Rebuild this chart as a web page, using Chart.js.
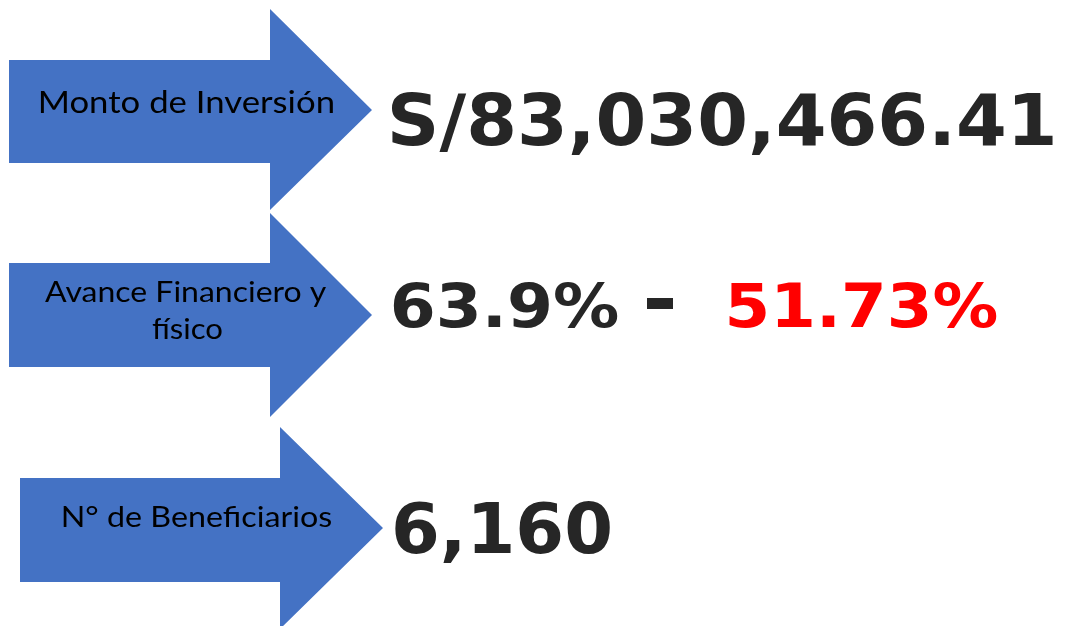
<!DOCTYPE html>
<html>
<head>
<meta charset="utf-8">
<script src="https://cdn.jsdelivr.net/npm/chart.js@4.4.1/dist/chart.umd.min.js"></script>
<style>
  html, body { margin: 0; padding: 0; background: #fff; }
  #wrap { width: 1065px; height: 626px; }
</style>
</head>
<body>
<div id="wrap"><canvas id="c" width="1065" height="626"></canvas></div>
<script>
// datos
const categorias = ['Monto de Inversión', 'Avance Financiero y\nfísico', 'N° de Beneficiarios'];
const valores = ['S/83,030,466.41', '63.9%', '6,160'];
const valoresFisico = ['', '51.73%', ''];

// geometria de las flechas y textos (unidades del eje, 0..1065 x 0..626)
const flechas = [
    { x0: 9,  x1: 270, punta: 372, top: 60,  bot: 163, cTop: 9,   cBot: 210, tipY: 110 },
    { x0: 9,  x1: 270, punta: 372, top: 263, bot: 367, cTop: 213, cBot: 417, tipY: 315 },
    { x0: 20, x1: 280, punta: 383, top: 478, bot: 582, cTop: 427, cBot: 629, tipY: 528 }
];
const etiquetas = [
    [{ a: 40, b: 333, base: 113, size: 30 }],
    [{ a: 45, b: 327, base: 302, size: 28 }, { a: 152, b: 222, base: 339, size: 28 }],
    [{ a: 63, b: 332, base: 527, size: 28 }]
];
const numeros = [
    { a: 392, b: 1053, base: 145, size: 71 },
    { a: 393, b: 618,  base: 327, size: 60 },
    { a: 395, b: 610,  base: 553, size: 69 }
];
const guion = { a: 647, b: 673, top: 298, bot: 309 };
const rojo = { a: 729, b: 997 };

const AZUL = '#4472C4';
const GRIS = '#262626';
const ROJO = '#FF0000';

// dibuja un texto ajustado horizontalmente a [x0, x1] (tinta)
const textoAjustado = (ctx, txt, x0, x1, base, font, color) => {
    ctx.save();
    ctx.font = font;
    ctx.fillStyle = color;
    ctx.textAlign = 'left';
    ctx.textBaseline = 'alphabetic';
    const m = ctx.measureText(txt);
    const w = m.actualBoundingBoxLeft + m.actualBoundingBoxRight;
    const s = (x1 - x0) / w;
    ctx.translate(x0 + m.actualBoundingBoxLeft * s, base);
    ctx.scale(s, 1);
    ctx.fillText(txt, 0, 0);
    ctx.restore();
};

const infografia = {
    id: 'infografia',
    afterDraw(chart) {
        const { ctx, scales: { x, y } } = chart;
        const px = v => x.getPixelForValue(v);
        const py = v => y.getPixelForValue(v);

        // flechas
        flechas.forEach(f => {
            ctx.save();
            ctx.fillStyle = AZUL;
            ctx.beginPath();
            ctx.moveTo(px(f.x0), py(f.top));
            ctx.lineTo(px(f.x1), py(f.top));
            ctx.lineTo(px(f.x1), py(f.cTop));
            ctx.lineTo(px(f.punta), py(f.tipY));
            ctx.lineTo(px(f.x1), py(f.cBot));
            ctx.lineTo(px(f.x1), py(f.bot));
            ctx.lineTo(px(f.x0), py(f.bot));
            ctx.closePath();
            ctx.fill();
            ctx.restore();
        });

        // etiquetas dentro de las flechas
        categorias.forEach((cat, i) => {
            cat.split('\n').forEach((linea, j) => {
                const e = etiquetas[i][j];
                textoAjustado(ctx, linea, px(e.a), px(e.b), py(e.base),
                    `${e.size}px Lato`, '#000');
            });
        });

        // valores
        valores.forEach((v, i) => {
            const n = numeros[i];
            textoAjustado(ctx, v, px(n.a), px(n.b), py(n.base),
                `bold ${n.size}px "DejaVu Sans"`, GRIS);
            if (valoresFisico[i]) {
                // guion separador
                ctx.save();
                ctx.fillStyle = GRIS;
                ctx.fillRect(px(guion.a), py(guion.top), px(guion.b) - px(guion.a), py(guion.bot) - py(guion.top));
                ctx.restore();
                textoAjustado(ctx, valoresFisico[i], px(rojo.a), px(rojo.b), py(n.base),
                    `bold ${n.size}px "DejaVu Sans"`, ROJO);
            }
        });
    }
};

new Chart(document.getElementById('c'), {
    type: 'scatter',
    data: { datasets: [] },
    options: {
        responsive: false,
        animation: false,
        layout: { padding: 0 },
        scales: {
            x: { type: 'linear', min: 0, max: 1065, display: false },
            y: { type: 'linear', min: 0, max: 626, reverse: true, display: false }
        },
        plugins: {
            legend: { display: false },
            tooltip: { enabled: false }
        }
    },
    plugins: [infografia]
});
</script>
</body>
</html>
